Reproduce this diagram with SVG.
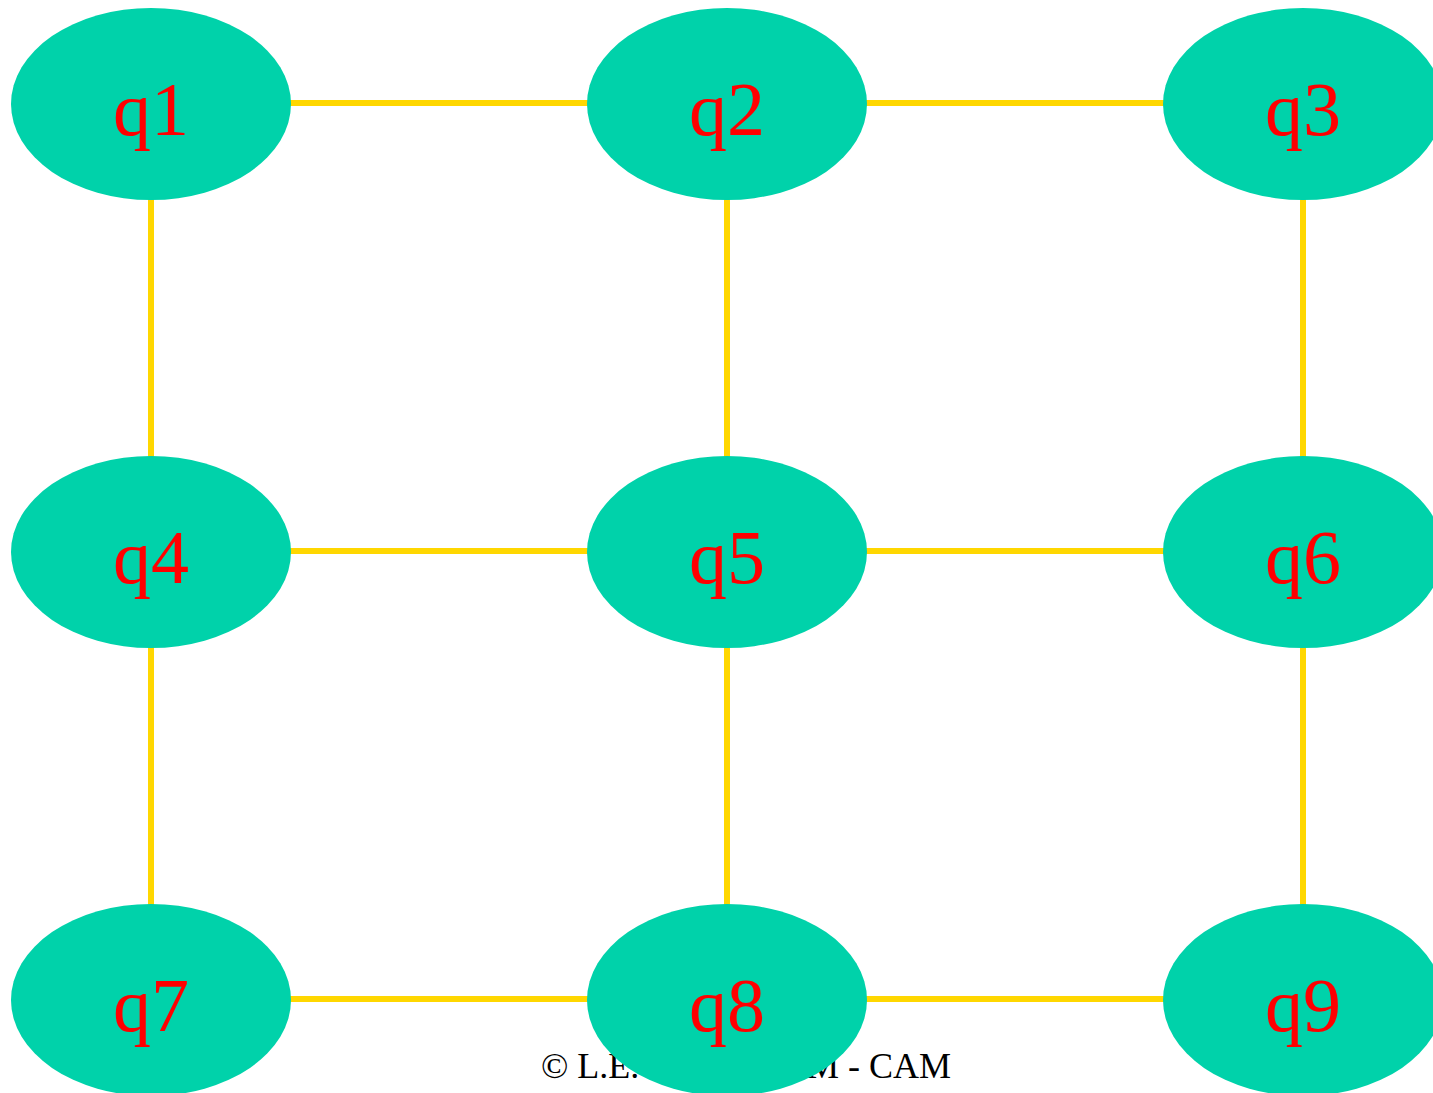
<svg xmlns="http://www.w3.org/2000/svg" width="1433" height="1093" viewBox="0 0 1433 1093">
<style>
.edge{stroke:#FFD700;stroke-width:6;fill:none}
.node ellipse{fill:#00D2AA}
.node text{fill:#FF0000;font-family:"Liberation Serif",serif;font-size:76px;text-anchor:middle}
.foot{fill:#000;font-family:"Liberation Serif",serif;font-size:36px}
</style>
<rect width="1433" height="1093" fill="#fff"/>
<g id="connectors">
<line class="edge" x1="151" y1="103" x2="727" y2="103"/>
<line class="edge" x1="727" y1="103" x2="1303" y2="103"/>
<line class="edge" x1="151" y1="551" x2="727" y2="551"/>
<line class="edge" x1="727" y1="551" x2="1303" y2="551"/>
<line class="edge" x1="151" y1="999" x2="727" y2="999"/>
<line class="edge" x1="727" y1="999" x2="1303" y2="999"/>
<line class="edge" x1="151" y1="104" x2="151" y2="552"/>
<line class="edge" x1="151" y1="552" x2="151" y2="1000"/>
<line class="edge" x1="727" y1="104" x2="727" y2="552"/>
<line class="edge" x1="727" y1="552" x2="727" y2="1000"/>
<line class="edge" x1="1303" y1="104" x2="1303" y2="552"/>
<line class="edge" x1="1303" y1="552" x2="1303" y2="1000"/>
</g>
<text class="foot" y="1078"><tspan x="541">© L.E.</tspan><tspan x="951" text-anchor="end">M - CAM</tspan></text>
<g id="q1" class="node"><ellipse cx="151" cy="104" rx="140" ry="96"/><text x="151" y="135">q1</text></g>
<g id="q2" class="node"><ellipse cx="727" cy="104" rx="140" ry="96"/><text x="727" y="135">q2</text></g>
<g id="q3" class="node"><ellipse cx="1303" cy="104" rx="140" ry="96"/><text x="1303" y="135">q3</text></g>
<g id="q4" class="node"><ellipse cx="151" cy="552" rx="140" ry="96"/><text x="151" y="583">q4</text></g>
<g id="q5" class="node"><ellipse cx="727" cy="552" rx="140" ry="96"/><text x="727" y="583">q5</text></g>
<g id="q6" class="node"><ellipse cx="1303" cy="552" rx="140" ry="96"/><text x="1303" y="583">q6</text></g>
<g id="q7" class="node"><ellipse cx="151" cy="1000" rx="140" ry="96"/><text x="151" y="1031">q7</text></g>
<g id="q8" class="node"><ellipse cx="727" cy="1000" rx="140" ry="96"/><text x="727" y="1031">q8</text></g>
<g id="q9" class="node"><ellipse cx="1303" cy="1000" rx="140" ry="96"/><text x="1303" y="1031">q9</text></g>
</svg>
